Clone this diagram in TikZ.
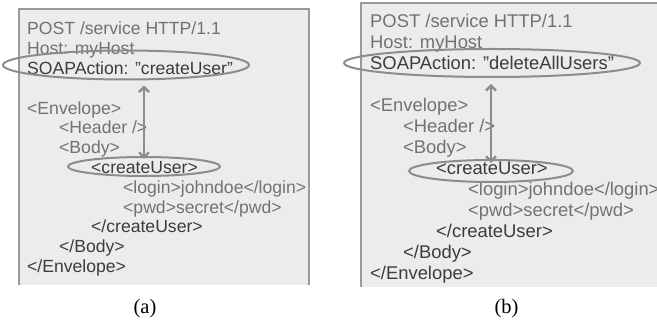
\documentclass[tikz,border=0pt]{standalone}
\usepackage{fontspec}
\setmainfont{Liberation Sans}
\newfontfamily\capfont{Liberation Serif}
\usetikzlibrary{shapes.geometric,arrows.meta}

\definecolor{panelfill}{HTML}{ECECEC}
\definecolor{panelline}{HTML}{9A9A9A}
\definecolor{txtlight}{HTML}{727272}
\definecolor{txtdark}{HTML}{3C3C3C}
\definecolor{markline}{HTML}{8C8C8C}

\newcommand{\dq}{\symbol{34}}

\tikzset{
  codeA/.style={anchor=base west, inner sep=0pt, font=\fontsize{17.6}{19.8}\selectfont},
  codeB/.style={anchor=base west, inner sep=0pt, font=\fontsize{18.4}{21}\selectfont},
  lt/.style={text=txtlight},
  dk/.style={text=txtdark},
  ring/.style={ellipse, draw=markline, line width=2pt, inner sep=0pt},
  link/.style={draw=markline, line width=2.4pt,
    {Straight Barb[length=5pt,width=10pt]}-{Straight Barb[length=5pt,width=10pt]}},
  caption/.style={font=\capfont\fontsize{20.5}{22}\selectfont, text=black}
}

\begin{document}
\begin{tikzpicture}[x=1pt,y=-1pt]
\useasboundingbox (0,0) rectangle (657,320);

% ---------- panel (a) ----------
\fill[panelfill] (19,9) rectangle (309,285);
\draw[panelline, line width=1.6pt] (19,285) -- (19,9) -- (309,9) -- (309,285);

\node[codeA,lt] (a0)  at (27,35)    {POST /service HTTP/1.1};
\node[codeA,lt] (a1)  at (27,54.8)  {Host: myHost};
\node[codeA,dk] (a2)  at (27,74.6)  {SOAPAction: \dq createUser\dq};
\node[codeA,lt] (a4)  at (27,114.2) {<Envelope>};
\node[codeA,lt] (a5)  at (59,134)   {<Header />};
\node[codeA,lt] (a6)  at (59,153.8) {<Body>};
\node[codeA,dk] (a7)  at (91,173.6) {<createUser>};
\node[codeA,lt] (a8)  at (123,193.4){<login>johndoe</login>};
\node[codeA,lt] (a9)  at (123,213.2){<pwd>secret</pwd>};
\node[codeA,dk] (a10) at (91,233)   {</createUser>};
\node[codeA,dk] (a11) at (59,252.8) {</Body>};
\node[codeA,dk] (a12) at (27,272.6) {</Envelope>};

\node[ring, minimum width=246pt, minimum height=29pt] (soapA) at (126,65) {};
\node[ring, minimum width=152pt, minimum height=19pt] (callA) at (144,166.5) {};
\draw[link, shorten <=5pt, shorten >=-3pt] (callA.north |- soapA.south) -- (callA.north);

\node[caption] (capA) at (145,308.5) {(a)};

% ---------- panel (b) ----------
\fill[panelfill] (361,3) rectangle (657,287);
\draw[panelline, line width=1.6pt] (361,287) -- (361,3) -- (657,3);

\node[codeB,lt] (b0)  at (370,28)    {POST /service HTTP/1.1};
\node[codeB,lt] (b1)  at (370,49)    {Host: myHost};
\node[codeB,dk] (b2)  at (370,70)    {SOAPAction: \dq deleteAllUsers\dq};
\node[codeB,lt] (b4)  at (370,112)   {<Envelope>};
\node[codeB,lt] (b5)  at (403,133)   {<Header />};
\node[codeB,lt] (b6)  at (403,154)   {<Body>};
\node[codeB,dk] (b7)  at (436,175)   {<createUser>};
\node[codeB,lt] (b8)  at (468,196)   {<login>johndoe</login>};
\node[codeB,lt] (b9)  at (468,217)   {<pwd>secret</pwd>};
\node[codeB,dk] (b10) at (436,238)   {</createUser>};
\node[codeB,dk] (b11) at (403,259)   {</Body>};
\node[codeB,dk] (b12) at (370,280)   {</Envelope>};

\node[ring, minimum width=296pt, minimum height=28pt] (soapB) at (492,63) {};
\node[ring, minimum width=164pt, minimum height=22pt] (callB) at (491,171) {};
\draw[link, shorten <=6pt, shorten >=-4pt] (callB.north |- soapB.south) -- (callB.north);

\node[caption] (capB) at (506.5,308.5) {(b)};
\end{tikzpicture}
\end{document}
